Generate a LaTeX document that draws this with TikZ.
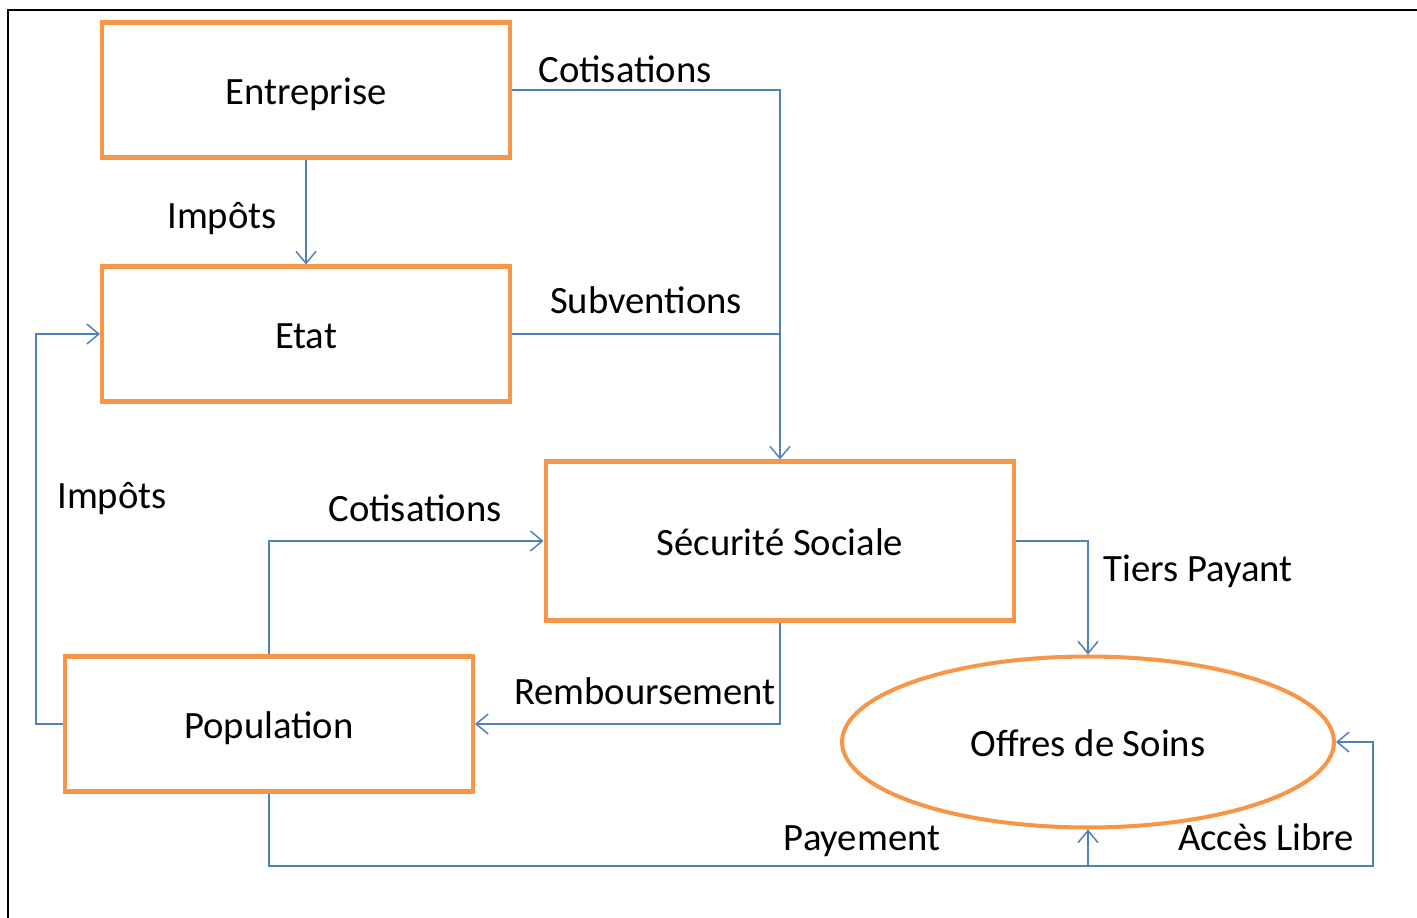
\documentclass[tikz,border=0pt]{standalone}
\usepackage{fontspec}
\setmainfont{Carlito}
\usepackage{xcolor}
\usetikzlibrary{shapes.geometric, arrows.meta, positioning, calc}
\definecolor{boxorange}{HTML}{F79646}
\definecolor{flowblue}{HTML}{4F81BD}
\tikzstyle{actor} = [rectangle, minimum width=8.16cm, minimum height=2.7cm,
                     text height=19pt, text depth=3pt,
                     text centered, draw=boxorange, fill=white, line width=2.3pt]
\tikzstyle{offer} = [ellipse, minimum width=9.84cm, minimum height=3.42cm, inner sep=0pt,
                     text height=19pt, text depth=3pt,
                     text centered, draw=boxorange, fill=white, line width=2.3pt]
\tikzstyle{flow} = [draw=flowblue, line width=0.85pt]
\tikzstyle{arrow} = [flow, -{Straight Barb[length=2.4mm, width=4mm]}]
\tikzstyle{tag} = [inner sep=0pt, text height=19pt, text depth=3pt]

\begin{document}
\begin{tikzpicture}[x=0.02cm, y=-0.02cm, font=\fontsize{22}{26}\selectfont]
    \useasboundingbox (0,0) rectangle (1417,918);
    \draw[line width=1.2pt] (8,918) -- (8,10) -- (1417,10);

    \node[actor] (entreprise) at (306,90) {Entreprise};
    \node[actor] (etat) at (306,334) {Etat};
    \node[actor, minimum width=9.38cm, minimum height=3.18cm] (secu) at (780,541) {Sécurité Sociale};
    \node[actor] (population) at (269,724) {Population};
    \node[offer] (soins) at (1088,742) {Offres de Soins};
    \coordinate (junction) at (1088,866);

    \draw[arrow] (entreprise.east) -| (secu.north);
    \draw[arrow] (entreprise.south) -- (etat.north);
    \draw[flow] (etat.east) -- (etat.east -| secu.north);
    \draw[arrow] (population.west) -- ++(-27,0) |- (etat.west);
    \draw[arrow] (population.north) |- (secu.west);
    \draw[arrow] (secu.south) |- (population.east);
    \draw[arrow] (secu.east) -| (soins.north);
    \draw[arrow] (population.south) |- (junction) -- (soins.south);
    \draw[arrow] (junction) -- ++(285,0) |- (soins.east);

    \node[tag] (cotis1) at (625,68) {Cotisations};
    \node[tag] (impots1) at (222,214) {Impôts};
    \node[tag] (subv) at (646,299) {Subventions};
    \node[tag] (impots2) at (112,494) {Impôts};
    \node[tag] (cotis2) at (415,507) {Cotisations};
    \node[tag] (tiers) at (1198,567) {Tiers Payant};
    \node[tag] (rembours) at (645,690) {Remboursement};
    \node[tag] (payement) at (862,836) {Payement};
    \node[tag] (acces) at (1266,836) {Accès Libre};
\end{tikzpicture}
\end{document}
